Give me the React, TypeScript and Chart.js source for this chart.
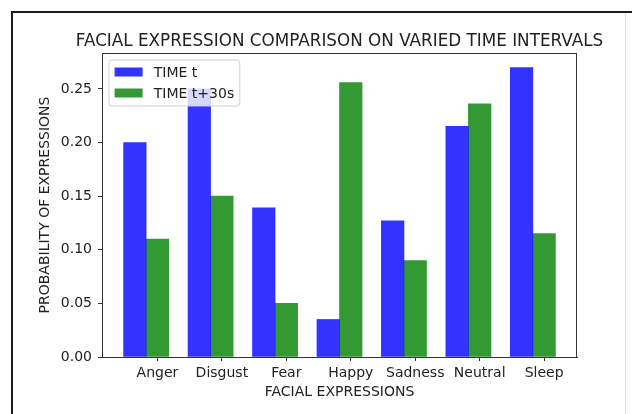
import React, { useEffect, useRef } from "react";
import { Chart, registerables } from "chart.js";

Chart.register(...registerables);

// ---- data ----
const categories = ["Anger", "Disgust", "Fear", "Happy", "Sadness", "Neutral", "Sleep"];
const timeT = [0.2, 0.25, 0.139, 0.035, 0.127, 0.215, 0.27];
const timeT30 = [0.11, 0.15, 0.05, 0.256, 0.09, 0.236, 0.115];
const yTicks = [0, 0.05, 0.1, 0.15, 0.2, 0.25];
const seriesLabels = ["TIME t", "TIME t+30s"];
const chartTitle = "FACIAL EXPRESSION COMPARISON ON VARIED TIME INTERVALS";
const xTitle = "FACIAL EXPRESSIONS";
const yTitle = "PROBABILITY OF EXPRESSIONS";

// ---- style ----
const BAR_W = 0.35;
const FONT = '"DejaVu Sans", "Liberation Sans", sans-serif';
const TEXT = "#222222";
const SPINE = "#333333";
const BLUE = "rgba(0,0,255,0.8)";
const GREEN = "rgba(0,128,0,0.8)";

const lo = -BAR_W / 2;
const hi = categories.length - 1 + BAR_W + BAR_W / 2;
const xMargin = (hi - lo) * 0.05;
const yMax = Math.max(...timeT, ...timeT30) * 1.05;

const framePlugin = {
  id: "frame",
  afterDatasetsDraw(chart: any) {
    const { ctx, chartArea: a } = chart;
    ctx.save();
    ctx.strokeStyle = SPINE;
    ctx.lineWidth = 1;
    ctx.strokeRect(Math.round(a.left) + 0.5, Math.round(a.top) + 0.5, Math.round(a.right - a.left) - 1, Math.round(a.bottom - a.top));
    ctx.restore();
  },
};

const legendPlugin = {
  id: "innerLegend",
  afterDatasetsDraw(chart: any) {
    const { ctx, chartArea: a } = chart;
    const f = 14;
    const colors = chart.data.datasets.map((d: any) => d.backgroundColor);
    const labels = chart.data.datasets.map((d: any) => d.label);
    ctx.save();
    ctx.font = `${f}px ${FONT}`;
    const tw = Math.max(...labels.map((l: string) => ctx.measureText(l).width));
    const bx = a.left + 0.5 * f;
    const by = a.top + 0.5 * f;
    const bw = 0.4 * f + 2 * f + 0.8 * f + tw + 0.4 * f;
    const bh = 46;
    const r = 3;
    ctx.beginPath();
    ctx.moveTo(bx + r, by);
    ctx.lineTo(bx + bw - r, by);
    ctx.quadraticCurveTo(bx + bw, by, bx + bw, by + r);
    ctx.lineTo(bx + bw, by + bh - r);
    ctx.quadraticCurveTo(bx + bw, by + bh, bx + bw - r, by + bh);
    ctx.lineTo(bx + r, by + bh);
    ctx.quadraticCurveTo(bx, by + bh, bx, by + bh - r);
    ctx.lineTo(bx, by + r);
    ctx.quadraticCurveTo(bx, by, bx + r, by);
    ctx.closePath();
    ctx.fillStyle = "rgba(255,255,255,0.8)";
    ctx.fill();
    ctx.strokeStyle = "rgba(204,204,204,0.9)";
    ctx.lineWidth = 1;
    ctx.stroke();
    labels.forEach((l: string, i: number) => {
      const cy = by + 12 + i * 21;
      const px = bx + 0.4 * f;
      ctx.fillStyle = colors[i];
      ctx.fillRect(px, cy - 4.5, 2 * f, 9);
      ctx.fillStyle = TEXT;
      ctx.textAlign = "left";
      ctx.textBaseline = "middle";
      ctx.fillText(l, px + 2 * f + 0.8 * f, cy + 1);
    });
    ctx.restore();
  },
};

const titlePlugin = {
  id: "topTitle",
  afterDraw(chart: any) {
    const { ctx, chartArea: a } = chart;
    ctx.save();
    ctx.font = `16.8px ${FONT}`;
    ctx.fillStyle = TEXT;
    ctx.textAlign = "center";
    ctx.textBaseline = "alphabetic";
    ctx.fillText(chartTitle, (a.left + a.right) / 2, 46);
    ctx.restore();
  },
};

export default function App() {
  const ref = useRef<HTMLCanvasElement | null>(null);

  useEffect(() => {
    if (!ref.current) return;
    const tickFont = { family: FONT, size: 14 };
    const chart = new Chart(ref.current, {
      type: "bar",
      data: {
        datasets: [
          {
            label: seriesLabels[0],
            data: timeT.map((v, i) => ({ x: i, y: v })),
            backgroundColor: BLUE,
            borderWidth: 0,
          },
          {
            label: seriesLabels[1],
            data: timeT30.map((v, i) => ({ x: i + BAR_W, y: v })),
            backgroundColor: GREEN,
            borderWidth: 0,
          },
        ],
      },
      options: {
        animation: false,
        responsive: false,
        grouped: false,
        barPercentage: 1,
        categoryPercentage: 1,
        layout: { padding: { left: 0, top: 53, right: 55, bottom: 0 } },
        plugins: {
          legend: { display: false },
          title: { display: false },
          tooltip: { enabled: false },
        },
        scales: {
          x: {
            type: "linear",
            min: lo - xMargin,
            max: hi + xMargin,
            offset: false,
            afterBuildTicks: (s: any) => {
              s.ticks = categories.map((_, i) => ({ value: i + BAR_W }));
            },
            afterFit: (s: any) => {
              s.height = 57;
            },
            grid: { display: true, drawOnChartArea: false, drawTicks: true, tickLength: 4, color: SPINE, offset: false },
            border: { display: true, color: SPINE },
            ticks: {
              callback: (_v: any, i: number) => categories[i],
              font: tickFont,
              color: TEXT,
              padding: 4,
              autoSkip: false,
              maxRotation: 0,
            },
            title: {
              display: true,
              text: xTitle,
              font: tickFont,
              color: TEXT,
              padding: { top: 0, bottom: 13 },
            },
          },
          y: {
            type: "linear",
            min: 0,
            max: yMax,
            afterBuildTicks: (s: any) => {
              s.ticks = yTicks.map((v) => ({ value: v }));
            },
            afterFit: (s: any) => {
              s.width = 102;
            },
            grid: { display: true, drawOnChartArea: false, drawTicks: true, tickLength: 4, color: SPINE },
            border: { display: true, color: SPINE },
            ticks: {
              callback: (v: any) => Number(v).toFixed(2),
              font: tickFont,
              color: TEXT,
              padding: 6,
            },
            title: {
              display: true,
              text: yTitle,
              font: tickFont,
              color: TEXT,
              padding: { top: 37, bottom: 0 },
            },
          },
        },
      } as any,
      plugins: [framePlugin, legendPlugin, titlePlugin],
    });
    return () => chart.destroy();
  }, []);

  return (
    <div style={{ position: "fixed", left: 0, top: 0, width: 632, height: 414, overflow: "hidden", background: "#fff" }}>
      <div
        style={{
          position: "absolute",
          left: 11,
          top: 11,
          width: 700,
          height: 500,
          borderTop: "2px solid #1a1a1a",
          borderLeft: "2px solid #1a1a1a",
        }}
      />
      <div style={{ position: "absolute", left: 625, top: 13, width: 1, height: 401, background: "#e2e2e2" }} />
      <canvas ref={ref} width={632} height={414} style={{ position: "absolute", left: 0, top: 0 }} />
    </div>
  );
}
